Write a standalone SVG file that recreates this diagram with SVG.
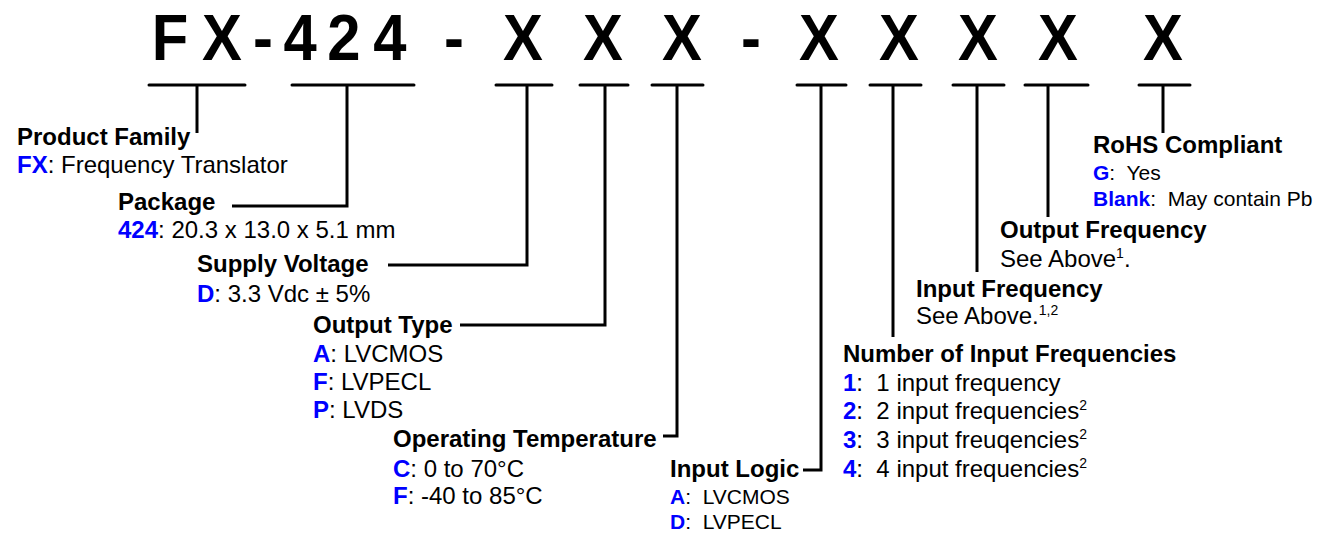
<svg xmlns="http://www.w3.org/2000/svg" width="1327" height="534" viewBox="0 0 1327 534">
<style>
text{font-family:"Liberation Sans",Arial,Helvetica,sans-serif;fill:#000}
.hdr{font-size:65px;font-weight:bold;text-anchor:middle}
.h{font-size:24px;font-weight:bold}
.t{font-size:24px}
.s{font-size:21px}
.c{fill:#0000ff;font-weight:bold}
.sup{font-size:14px}
.ul{stroke:#000;stroke-width:3;stroke-linecap:round;fill:none}
.ln{stroke:#000;stroke-width:3;fill:none;stroke-linejoin:miter}
</style>
<rect width="1327" height="534" fill="#fff"/>
<g id="header">
<text class="hdr" transform="scale(0.92,1)" x="184.8 241.3 285.9 326.1 373.9 423.9 458.7 493.5 530.4 568.5 612 655.4 697.8 741.3 778.3 816.3 853.3 890.2 933.7 977.2 1019.6 1063 1106.5 1150 1206.5 1264.1" y="60">FX-424 - X X X - X X X X X</text>
</g>
<g id="connectors">
<line class="ul" x1="149" y1="85" x2="245" y2="85"/>
<line class="ul" x1="292" y1="85" x2="414" y2="85"/>
<line class="ul" x1="496" y1="85" x2="552" y2="85"/>
<line class="ul" x1="580" y1="85" x2="628" y2="85"/>
<line class="ul" x1="652" y1="85" x2="703" y2="85"/>
<line class="ul" x1="797" y1="85" x2="846" y2="85"/>
<line class="ul" x1="870" y1="85" x2="921" y2="85"/>
<line class="ul" x1="953" y1="85" x2="1004" y2="85"/>
<line class="ul" x1="1025" y1="85" x2="1088" y2="85"/>
<line class="ul" x1="1139" y1="85" x2="1190" y2="85"/>
<polyline class="ln" points="197,85 197,133"/>
<polyline class="ln" points="347,85 347,206 232,206"/>
<polyline class="ln" points="527,85 527,265 388,265"/>
<polyline class="ln" points="605,85 605,325 460,325"/>
<polyline class="ln" points="677,85 677,436 663,436"/>
<polyline class="ln" points="821,85 821,470 803,470"/>
<polyline class="ln" points="893,85 893,337"/>
<polyline class="ln" points="977,85 977,272"/>
<polyline class="ln" points="1048,85 1048,217"/>
<polyline class="ln" points="1163,85 1163,133"/>
</g>
<g id="product-family">
<text class="h" x="17" y="145">Product Family</text>
<text class="t" x="17" y="173"><tspan class="c">FX</tspan>: Frequency Translator</text>
</g>
<g id="package">
<text class="h" x="118" y="210">Package</text>
<text class="t" x="118" y="238"><tspan class="c">424</tspan>: 20.3 x 13.0 x 5.1 mm</text>
</g>
<g id="supply-voltage">
<text class="h" x="197" y="272">Supply Voltage</text>
<text class="t" x="197" y="302"><tspan class="c">D</tspan>: 3.3 Vdc ± 5%</text>
</g>
<g id="output-type">
<text class="h" x="313" y="333">Output Type</text>
<text class="t" x="313" y="362"><tspan class="c">A</tspan>: LVCMOS</text>
<text class="t" x="313" y="390"><tspan class="c">F</tspan>: LVPECL</text>
<text class="t" x="313" y="418"><tspan class="c">P</tspan>: LVDS</text>
</g>
<g id="operating-temperature">
<text class="h" x="393" y="447">Operating Temperature</text>
<text class="t" x="393" y="477"><tspan class="c">C</tspan>: 0 to 70°C</text>
<text class="t" x="393" y="504"><tspan class="c">F</tspan>: -40 to 85°C</text>
</g>
<g id="input-logic">
<text class="h" x="670" y="477">Input Logic</text>
<text class="s" x="670" y="504" xml:space="preserve"><tspan class="c">A</tspan>:  LVCMOS</text>
<text class="s" x="670" y="529" xml:space="preserve"><tspan class="c">D</tspan>:  LVPECL</text>
</g>
<g id="number-of-input-frequencies">
<text class="h" x="843" y="362">Number of Input Frequencies</text>
<text class="t" x="843" y="391" xml:space="preserve"><tspan class="c">1</tspan>:  1 input frequency</text>
<text class="t" x="843" y="419" xml:space="preserve"><tspan class="c">2</tspan>:  2 input frequencies<tspan class="sup" dy="-9">2</tspan></text>
<text class="t" x="843" y="448" xml:space="preserve"><tspan class="c">3</tspan>:  3 input freuqencies<tspan class="sup" dy="-9">2</tspan></text>
<text class="t" x="843" y="477" xml:space="preserve"><tspan class="c">4</tspan>:  4 input frequencies<tspan class="sup" dy="-9">2</tspan></text>
</g>
<g id="input-frequency">
<text class="h" x="916" y="297">Input Frequency</text>
<text class="t" x="916" y="324">See Above.<tspan class="sup" dy="-9">1,2</tspan></text>
</g>
<g id="output-frequency">
<text class="h" x="1000" y="238">Output Frequency</text>
<text class="t" x="1000" y="267">See Above<tspan class="sup" dy="-9">1</tspan><tspan dy="9">.</tspan></text>
</g>
<g id="rohs-compliant">
<text class="h" x="1093" y="153">RoHS Compliant</text>
<text class="s" x="1093" y="180" xml:space="preserve"><tspan class="c">G</tspan>:  Yes</text>
<text class="s" x="1093" y="206" xml:space="preserve"><tspan class="c">Blank</tspan>:  May contain Pb</text>
</g>
</svg>
